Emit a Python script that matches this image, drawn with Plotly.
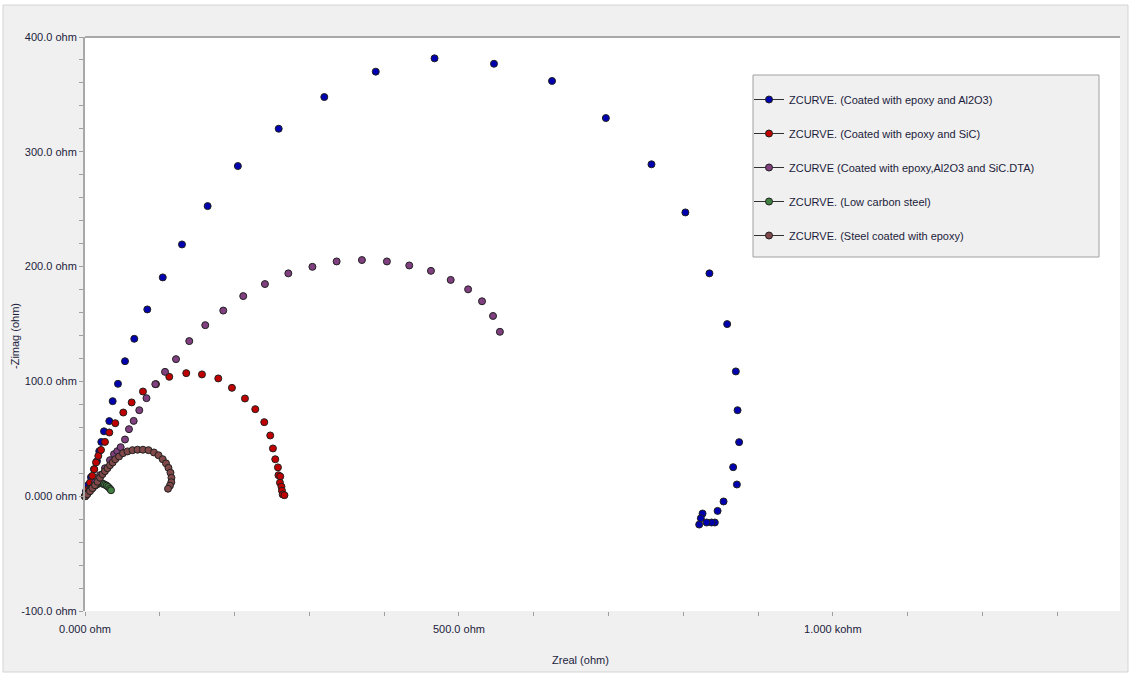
import plotly.graph_objects as go

# ---- data (Zreal, -Zimag) in ohm ----
names = [
    "ZCURVE. (Coated with epoxy and Al2O3)",
    "ZCURVE. (Coated with epoxy and SiC)",
    "ZCURVE (Coated with epoxy,Al2O3 and SiC.DTA)",
    "ZCURVE. (Low carbon steel)",
    "ZCURVE. (Steel coated with epoxy)",
]
colors = ["#0000b0", "#c00000", "#804080", "#408040", "#804848"]

al2o3_zre = [0, 1.3, 4.0, 8.0, 12.0, 16.0, 19.1, 21.8, 25.4, 32.5, 37.0, 44.1, 53.5, 65.9,
             83.3, 104.0, 129.7, 164.0, 204.4, 259.0, 320.0, 388.8, 467.4, 546.9, 624.5,
             696.5, 757.5, 802.8, 835.0, 858.7, 870.3, 872.6, 874.7, 866.7, 871.7, 853.9,
             845.9, 842.2, 837.8, 831.2, 825.8, 823.5, 821.3]
al2o3_zim = [0, 4.4, 9.6, 16.6, 23.5, 30.5, 39.2, 47.3, 56.5, 65.4, 82.8, 97.9, 117.6, 137.1,
             162.7, 190.6, 219.3, 252.7, 287.6, 320.1, 347.7, 369.8, 381.4, 376.7, 361.7,
             329.4, 289.1, 247.2, 194.1, 149.9, 108.7, 74.9, 47.1, 25.3, 10.2, -4.6,
             -12.8, -22.9, -22.9, -22.9, -15.1, -19.2, -24.7]

sic_zre = [0, 1.3, 4.0, 6.7, 9.8, 12.4, 14.7, 17.8, 21.4, 26.7, 32.5, 40.5, 51.2, 62.4, 77.5,
           94.9, 112.7, 135.4, 156.4, 178.2, 196.5, 213.9, 227.7, 239.7, 247.7, 251.3, 254.4,
           258.0, 258.7, 261.1, 260.7, 262.7, 263.4, 264.4, 266.7]
sic_zim = [0, 0.9, 6.1, 11.9, 17.7, 23.5, 29.4, 35.1, 40.3, 47.3, 55.5, 63.6, 72.9, 81.7, 91.2,
           97.6, 104.0, 107.2, 106.1, 102.6, 94.4, 85.1, 75.8, 64.5, 52.9, 41.6, 32.2,
           25.1, 18.3, 17.2, 11.8, 8.3, 4.8, 1.5, 0.9]

mix_zre = [0, 6.7, 13.4, 20.1, 26.7, 33.4, 38.8, 43.2, 47.7, 53.5, 58.8, 65.1, 72.6, 82.2,
           94.0, 107.0, 121.7, 139.4, 160.8, 184.9, 211.6, 240.6, 271.9, 304.1, 336.5,
           370.3, 403.7, 433.6, 462.6, 489.0, 512.3, 530.9, 545.6, 554.8]
mix_zim = [0, 6.1, 12.2, 18.3, 24.4, 31.4, 36.6, 39.2, 42.7, 49.4, 58.4, 65.6, 74.9, 85.4,
           97.6, 108.3, 119.4, 135.1, 149.0, 161.7, 174.3, 184.8, 194.1, 199.8, 204.5,
           205.7, 204.5, 201.0, 196.3, 188.4, 180.2, 169.8, 157.0, 143.2]

steel_zre = [0, 2.0, 4.4, 6.7, 9.0, 11.4, 13.4, 15.6, 17.8, 20.1, 22.3, 24.5, 26.7, 29.0,
             31.1, 33.4, 34.8]
steel_zim = [0, 1.7, 3.2, 5.2, 6.5, 8.3, 9.2, 10.2, 10.9, 11.3, 11.2, 10.7, 10.0, 9.2,
             8.1, 6.5, 5.2]

epoxy_zre = [0, 3.1, 6.7, 10.0, 13.4, 16.7, 20.1, 23.4, 26.7, 30.1, 33.4, 37.0, 40.5, 45.5,
             50.8, 56.8, 63.5, 70.2, 77.5, 84.9, 92.2, 98.3, 103.9, 108.3, 111.6, 114.3,
             115.6, 115.4, 113.6, 111.0]
epoxy_zim = [0, 1.7, 4.4, 7.0, 9.6, 12.6, 16.1, 19.2, 21.8, 24.4, 27.0, 29.4, 32.2, 34.6,
             37.5, 39.0, 40.1, 40.5, 40.5, 40.1, 38.1, 35.7, 32.2, 28.6, 24.7, 20.5,
             16.1, 12.2, 9.2, 6.5]

x_tickvals = [0, 500, 1000]
x_ticktext = ["0.000 ohm", "500.0 ohm", "1.000 kohm"]
y_tickvals = [-100, 0, 100, 200, 300, 400]
y_ticktext = ["-100.0 ohm", "0.000 ohm", "100.0 ohm", "200.0 ohm", "300.0 ohm", "400.0 ohm"]

series = [
    (al2o3_zre, al2o3_zim),
    (sic_zre, sic_zim),
    (mix_zre, mix_zim),
    (steel_zre, steel_zim),
    (epoxy_zre, epoxy_zim),
]

FONT = "Liberation Sans, Arial, sans-serif"
TXT = "#1c1c3c"
FS = 11

fig = go.Figure()
for (xs, ys), c in zip(series, colors):
    fig.add_trace(go.Scatter(
        x=xs, y=ys, mode="markers", showlegend=False,
        marker=dict(size=7, color=c, line=dict(color="#202020", width=1)),
        cliponaxis=False,
    ))
# legend entries (line + marker symbol as in the reference legend)
for i, (n, c) in enumerate(zip(names, colors)):
    fig.add_trace(go.Scatter(
        x=[None], y=[None], mode="lines+markers", name=n, legendgroup=str(i),
        line=dict(color="#303030", width=1),
        marker=dict(size=7, color=c, line=dict(color="#202020", width=1)),
    ))

def px_x(p):
    return (p - 85) / 1035.0

def px_y(p):
    return (611 - p) / 574.0

shapes = [
    # outer gray panel
    dict(type="rect", xref="paper", yref="paper", layer="below",
         x0=px_x(3), x1=px_x(1128), y0=px_y(672), y1=px_y(5),
         fillcolor="#f0f0f0", line=dict(color="#d4d4d4", width=1)),
    # white plotting area
    dict(type="rect", xref="paper", yref="paper", layer="below",
         x0=0, x1=1, y0=0, y1=1, fillcolor="#ffffff", line=dict(width=0)),
    # top border line
    dict(type="line", xref="paper", yref="paper", x0=0, x1=1, y0=1, y1=1,
         line=dict(color="#a8a8a8", width=2)),
    # legend box
    dict(type="rect", xref="paper", yref="paper", layer="above",
         x0=px_x(753), x1=px_x(1099), y0=px_y(257), y1=px_y(75),
         fillcolor="#f0f0f0", line=dict(color="#a0a0a0", width=1)),
]

fig.update_layout(
    width=1134, height=675,
    margin=dict(l=85, r=14, t=37, b=64),
    paper_bgcolor="#ffffff", plot_bgcolor="rgba(0,0,0,0)",
    font=dict(family=FONT, size=FS, color=TXT),
    shapes=shapes,
    showlegend=True,
    legend=dict(x=px_x(749), y=px_y(85), xanchor="left", yanchor="top",
                bgcolor="rgba(0,0,0,0)", borderwidth=0,
                font=dict(family=FONT, size=FS, color=TXT),
                tracegroupgap=15, itemwidth=30),
    xaxis=dict(range=[0, 1384], showgrid=False, zeroline=False, showline=False,
               tickvals=x_tickvals, ticktext=x_ticktext, ticks="outside",
               ticklen=4, tickcolor="#a0a0a0", ticklabelstandoff=4,
               minor=dict(dtick=100, ticks="outside", ticklen=4, tickcolor="#a0a0a0",
                          showgrid=False)),
    yaxis=dict(range=[-100, 400], showgrid=False, zeroline=False, showline=True,
               linecolor="#a8a8a8", linewidth=2,
               tickvals=y_tickvals, ticktext=y_ticktext, ticks="outside",
               ticklen=4, tickcolor="#a0a0a0",
               minor=dict(dtick=20, ticks="outside", ticklen=4, tickcolor="#a0a0a0",
                          showgrid=False)),
    annotations=[
        dict(text="Zreal (ohm)", xref="paper", yref="paper", x=px_x(580), y=px_y(660),
             xanchor="center", yanchor="middle",
             showarrow=False, font=dict(family=FONT, size=FS, color=TXT)),
        dict(text="-Zimag (ohm)", xref="paper", yref="paper", x=px_x(15), y=px_y(336),
             xanchor="center", yanchor="middle",
             showarrow=False, textangle=-90, font=dict(family=FONT, size=FS, color=TXT)),
    ],
)

fig.write_html("out.html", config={"displayModeBar": False},
               post_script="document.body.style.margin='0';")
